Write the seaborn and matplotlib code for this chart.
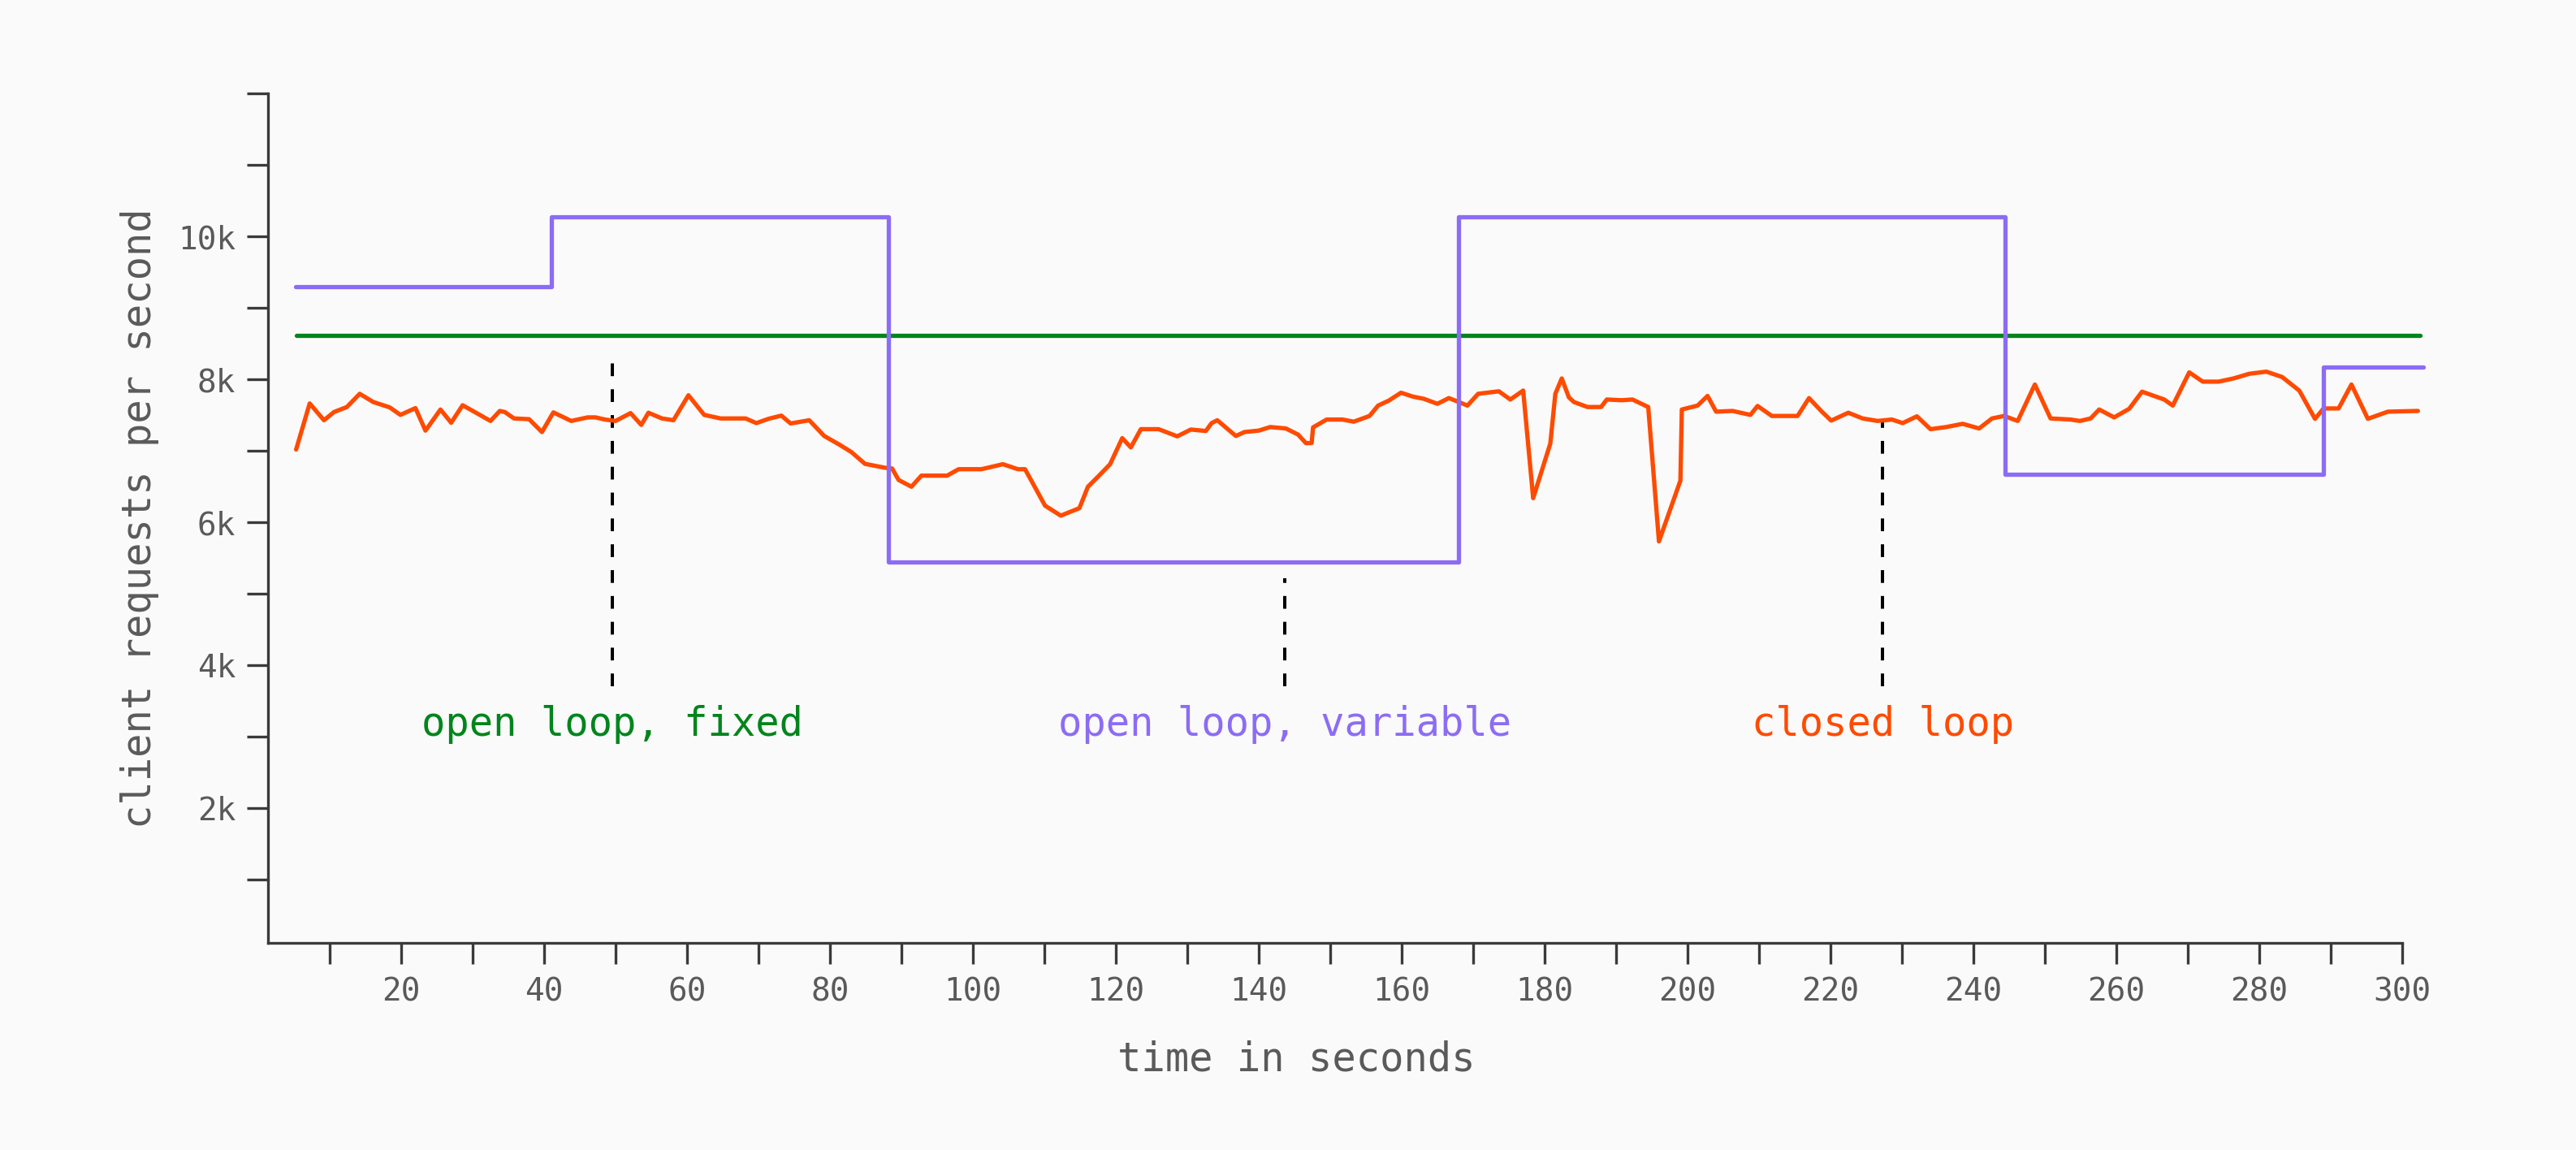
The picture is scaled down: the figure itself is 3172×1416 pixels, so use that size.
import numpy as np
import pandas as pd
import matplotlib
matplotlib.use("Agg")
import matplotlib.pyplot as plt
import seaborn as sns

# closed loop: measured client requests per second
closed_t = [5.3, 7.2, 9.2, 10.6, 12.4, 14.2, 16.1, 18.4, 19.9, 22.0, 23.4, 25.5, 27.0, 28.6,
            30.3, 32.5, 33.8, 34.5, 35.8, 37.9, 39.7, 41.3, 43.8, 46.1, 47.2, 48.5, 50.0, 52.1,
            53.6, 54.6, 56.5, 58.1, 60.2, 62.4, 64.7, 68.2, 69.7, 71.4, 73.2, 74.5, 77.1, 79.2,
            81.3, 83.0, 84.9, 87.7, 88.7, 89.6, 91.4, 92.8, 96.4, 98.0, 101.2, 104.2, 106.3,
            107.3, 110.1, 112.3, 114.9, 116.1, 117.6, 119.2, 120.9, 122.1, 123.5, 126.0, 128.6,
            130.5, 132.6, 133.4, 134.2, 136.8, 138.0, 140.0, 141.6, 143.8, 145.5, 146.6, 147.4,
            147.6, 149.5, 151.7, 153.3, 155.5, 156.7, 158.2, 159.9, 161.6, 163.1, 165.0, 166.6,
            168.0, 169.2, 170.7, 173.6, 175.2, 177.0, 178.4, 180.8, 181.5, 182.4, 183.4, 184.1,
            186.0, 187.9, 188.7, 190.8, 192.3, 194.5, 196.0, 199.0, 199.2, 201.4, 202.8, 204.0,
            206.3, 208.8, 209.8, 211.8, 215.4, 217.0, 218.8, 220.1, 222.5, 224.5, 226.6, 228.6,
            230.1, 232.1, 234.0, 236.2, 238.5, 240.8, 242.6, 244.3, 246.2, 248.6, 250.8, 253.6,
            254.9, 256.4, 257.6, 259.7, 261.8, 263.6, 266.7, 267.9, 270.2, 272.1, 274.3, 276.4,
            278.6, 281.0, 283.2, 285.6, 287.8, 289.0, 291.1, 292.9, 295.2, 298.0, 302.2]
closed_v = [7020, 7665, 7430, 7545, 7615, 7800, 7685, 7610, 7505, 7600, 7285, 7580, 7395, 7640,
            7545, 7420, 7560, 7545, 7455, 7445, 7265, 7540, 7420, 7470, 7470, 7440, 7420, 7530,
            7365, 7535, 7455, 7430, 7780, 7505, 7455, 7455, 7390, 7450, 7495, 7385, 7430, 7210,
            7090, 6985, 6820, 6765, 6755, 6595, 6500, 6655, 6655, 6745, 6745, 6815, 6745,
            6745, 6235, 6095, 6200, 6500, 6650, 6815, 7180, 7050, 7305, 7305, 7205,
            7300, 7280, 7390, 7430, 7210, 7265, 7285, 7335, 7315, 7230, 7110, 7110,
            7330, 7440, 7440, 7410, 7490, 7635, 7705, 7815, 7760, 7730, 7660, 7740,
            7685, 7635, 7800, 7835, 7720, 7845, 6340, 7105, 7800, 8015, 7750, 7685,
            7615, 7615, 7720, 7710, 7720, 7615, 5735, 6585, 7580, 7635, 7770, 7550,
            7560, 7505, 7630, 7490, 7490, 7740, 7550, 7425, 7535, 7455, 7420, 7440,
            7390, 7485, 7305, 7335, 7380, 7315, 7455, 7490, 7420, 7930, 7455, 7440,
            7420, 7455, 7580, 7470, 7590, 7830, 7720, 7635, 8100, 7970, 7970, 8015,
            8080, 8110, 8035, 7845, 7450, 7595, 7595, 7930, 7450, 7550, 7560]

# open loop, fixed rate
fixed_t = [5.3, 302.5]
fixed_v = [8620, 8620]

# open loop, variable rate (step changes)
variable_t = [5.2, 41.0, 88.2, 168.0, 244.4, 289.0, 303.0]
variable_v = [9300, 10280, 5450, 10280, 6675, 8177, 8177]

# labels and their leader lines
label_text = ["open loop, fixed", "open loop, variable", "closed loop"]
label_t = [49.5, 143.6, 227.3]
label_top = [8347, 5222, 7423]
label_bottom = 3712
label_y = 3020

x_ticks = list(range(10, 301, 10))
x_labels = [str(t) if t % 20 == 0 else "" for t in x_ticks]
y_ticks = list(range(1000, 12001, 1000))
y_labels = [f"{v // 1000}k" if v % 2000 == 0 and v <= 10000 else "" for v in y_ticks]

GREEN = "#00851c"
PURPLE = "#8c6cf4"
ORANGE = "#ff4a00"
BG = "#fafafa"
AXIS = "#3a3a3a"
TEXT = "#5a5a5a"

sns.set_style("ticks")
plt.rcParams["font.family"] = ["DejaVu Sans Mono", "DejaVu Sans"]

fig = plt.figure(figsize=(15.86, 7.08), dpi=200, facecolor=BG)
ax = fig.add_axes([0.10413, 0.18008, 0.84227, 0.74162])
ax.set_facecolor(BG)

df_closed = pd.DataFrame({"t": closed_t, "v": closed_v})
df_fixed = pd.DataFrame({"t": fixed_t, "v": fixed_v})
df_var = pd.DataFrame({"t": variable_t, "v": variable_v})

sns.lineplot(data=df_fixed, x="t", y="v", color=GREEN, linewidth=1.9, ax=ax,
             estimator=None, sort=False, zorder=2)
sns.lineplot(data=df_closed, x="t", y="v", color=ORANGE, linewidth=1.9, ax=ax,
             estimator=None, sort=False, zorder=3, solid_joinstyle="round")
sns.lineplot(data=df_var, x="t", y="v", color=PURPLE, linewidth=1.9, ax=ax,
             estimator=None, sort=False, drawstyle="steps-post", zorder=4)

label_colors = [GREEN, PURPLE, ORANGE]
for txt, t, top, c in zip(label_text, label_t, label_top, label_colors):
    ax.plot([t, t], [label_bottom, top], color="black", linewidth=1.45,
            dashes=(3.9, 4.0), zorder=1)
    ax.text(t, label_y, txt, color=c, fontsize=17.6, ha="center", va="baseline")

ax.set_xlim(1.4, 305)
ax.set_ylim(117, 12050)
ax.set_xticks(x_ticks)
ax.set_xticklabels(x_labels)
ax.set_yticks(y_ticks)
ax.set_yticklabels(y_labels)
ax.tick_params(axis="both", direction="out", length=9.2, width=1.2, color=AXIS,
               labelcolor=TEXT, labelsize=14.2)
ax.tick_params(axis="x", pad=5.8)
ax.tick_params(axis="y", pad=5.2)

sns.despine(ax=ax)
for side in ["left", "bottom"]:
    ax.spines[side].set_color(AXIS)
    ax.spines[side].set_linewidth(1.2)
ax.spines["bottom"].set_bounds(1.4, 300)
ax.spines["left"].set_bounds(117, 12000)

ax.set_xlabel("")
ax.set_ylabel("")
fig.text(0.5031, 0.0689, "time in seconds", color=TEXT, fontsize=17.6,
         ha="center", va="baseline")
fig.text(0.0541, 0.5494, "client requests per second", color=TEXT, fontsize=17.6,
         ha="center", va="center", rotation=90)

fig.savefig("out.png", dpi=200, facecolor=BG)
